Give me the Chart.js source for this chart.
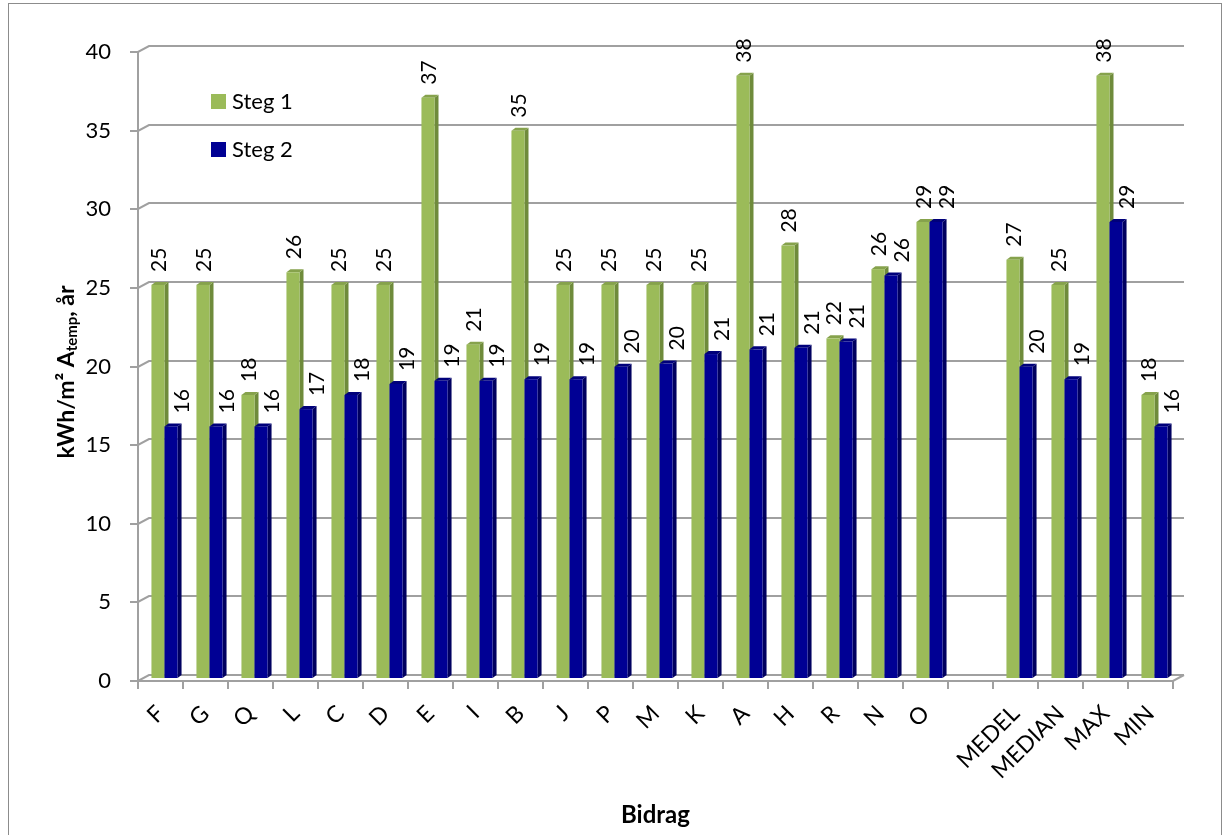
<!DOCTYPE html>
<html>
<head>
<meta charset="utf-8">
<script src="https://cdn.jsdelivr.net/npm/chart.js@4.4.1/dist/chart.umd.min.js"></script>
<style>
  html, body { margin: 0; padding: 0; background: #ffffff; }
  #wrap { position: relative; width: 1226px; height: 835px; }
  canvas { display: block; }
</style>
</head>
<body>
<div id="wrap"><canvas id="c" width="1226" height="835"></canvas></div>
<script>
// Energy contribution per building, two steps, plus summary columns
const categories = ['F', 'G', 'Q', 'L', 'C', 'D', 'E', 'I', 'B', 'J', 'P', 'M', 'K', 'A', 'H', 'R', 'N', 'O', '', 'MEDEL', 'MEDIAN', 'MAX', 'MIN'];
const steg1 = [25, 25, 18, 25.8, 25, 25, 36.9, 21.2, 34.8, 25, 25, 25, 25, 38.3, 27.5, 21.6, 26, 29, null, 26.6, 25, 38.3, 18];
const steg2 = [16, 16, 16, 17.1, 18, 18.7, 18.9, 18.9, 19, 19, 19.8, 20, 20.6, 20.9, 21, 21.4, 25.6, 29, null, 19.8, 19, 29, 16];
const seriesNames = ['Steg 1', 'Steg 2'];
const yMax = 40;
const yStep = 5;

const FONT = 'Lato, "Open Sans", sans-serif';
// front, side and top face colours per series
const FRONTS = ['#9bbb59', '#000094'];
const SIDES = ['#6f8b3b', '#000060'];
const TOPS = ['#86a24c', '#00007a'];
const GRID = '#a0a0a0';

// pseudo-3D: back wall offset and bar depth
const WALL_DX = 11, WALL_DY = -6;
const BAR_SHIFT_X = 4, BAR_SHIFT_Y = -3;
const DEPTH_X = 4, DEPTH_Y = -3;

const wallPlugin = {
  id: 'wall',
  beforeDatasetsDraw(chart) {
    const { ctx, chartArea: a, scales: { y } } = chart;
    ctx.save();
    ctx.strokeStyle = GRID;
    ctx.lineWidth = 2;
    // horizontal gridlines on the back wall with diagonal joins to the front axis
    for (let v = 0; v <= yMax; v += yStep) {
      const py = Math.round(y.getPixelForValue(v));
      ctx.beginPath();
      ctx.moveTo(a.left - 8, py);
      ctx.lineTo(a.left, py);
      ctx.lineTo(a.left + WALL_DX, py + WALL_DY);
      ctx.lineTo(a.right + WALL_DX, py + WALL_DY);
      ctx.stroke();
    }
    // front floor edge and right floor edge
    const pb = Math.round(y.getPixelForValue(0));
    ctx.beginPath();
    ctx.moveTo(a.left, pb);
    ctx.lineTo(a.right, pb);
    ctx.lineTo(a.right + WALL_DX, pb + WALL_DY);
    ctx.stroke();
    // left axis line
    ctx.beginPath();
    ctx.moveTo(a.left, Math.round(y.getPixelForValue(yMax)));
    ctx.lineTo(a.left, pb);
    ctx.stroke();
    // category boundary ticks
    const n = categories.length;
    const step = (a.right - a.left) / n;
    for (let i = 0; i <= n; i++) {
      const px = Math.round(a.left + i * step);
      ctx.beginPath();
      ctx.moveTo(px, pb);
      ctx.lineTo(px, pb + 8);
      ctx.stroke();
    }
    ctx.restore();
  },
  afterDatasetsDraw(chart) {
    const { ctx } = chart;
    ctx.save();
    ctx.translate(BAR_SHIFT_X, BAR_SHIFT_Y);
    for (let i = 0; i < categories.length; i++) {
      chart.data.datasets.forEach((ds, d) => {
        const v = ds.data[i];
        if (v === null || v === undefined) return;
        const el = chart.getDatasetMeta(d).data[i];
        const x1 = el.x - el.width / 2, x2 = el.x + el.width / 2;
        const top = el.y, base = el.base;
        // side face
        ctx.fillStyle = SIDES[d];
        ctx.beginPath();
        ctx.moveTo(x2, top);
        ctx.lineTo(x2 + DEPTH_X, top + DEPTH_Y);
        ctx.lineTo(x2 + DEPTH_X, base + DEPTH_Y);
        ctx.lineTo(x2, base);
        ctx.closePath();
        ctx.fill();
        // top face
        ctx.fillStyle = TOPS[d];
        ctx.beginPath();
        ctx.moveTo(x1, top);
        ctx.lineTo(x1 + DEPTH_X, top + DEPTH_Y);
        ctx.lineTo(x2 + DEPTH_X, top + DEPTH_Y);
        ctx.lineTo(x2, top);
        ctx.closePath();
        ctx.fill();
        // front face
        ctx.fillStyle = FRONTS[d];
        ctx.fillRect(x1, top, x2 - x1, base - top);
      });
    }
    ctx.restore();

    // value labels, rotated
    ctx.save();
    ctx.fillStyle = '#000';
    ctx.font = '21px ' + FONT;
    ctx.textAlign = 'left';
    ctx.textBaseline = 'middle';
    chart.data.datasets.forEach((ds, d) => {
      const meta = chart.getDatasetMeta(d);
      ds.data.forEach((v, i) => {
        if (v === null || v === undefined) return;
        const el = meta.data[i];
        const lx = el.x + BAR_SHIFT_X + (d === 1 ? 10 : 0);
        const ly = el.y + BAR_SHIFT_Y - 13;
        ctx.save();
        ctx.translate(lx, ly);
        ctx.rotate(-Math.PI / 2);
        ctx.fillText(String(Math.round(v)), 0, 1);
        ctx.restore();
      });
    });
    ctx.restore();
  },
  afterDraw(chart) {
    const { ctx, chartArea: a } = chart;
    // legend inside the plot
    ctx.save();
    ctx.font = '22px ' + FONT;
    ctx.textBaseline = 'middle';
    ctx.textAlign = 'left';
    chart.data.datasets.forEach((ds, d) => {
      const ly = a.top + 49 + d * 48;
      ctx.fillStyle = FRONTS[d];
      ctx.fillRect(a.left + 73, ly - 7, 15, 15);
      ctx.fillStyle = '#000';
      ctx.fillText(ds.label, a.left + 94, ly + 1);
    });
    ctx.restore();

    // y-axis title with subscript
    ctx.save();
    ctx.translate(67, 372);
    ctx.rotate(-Math.PI / 2);
    ctx.fillStyle = '#000';
    ctx.textBaseline = 'middle';
    ctx.textAlign = 'left';
    const big = 'bold 23px ' + FONT, small = 'bold 15px ' + FONT;
    const parts = [['kWh/m² A', big, 0], ['temp', small, 5], [', år', big, 0]];
    let w = 0;
    parts.forEach(p => { ctx.font = p[1]; w += ctx.measureText(p[0]).width; });
    let cx = -w / 2;
    parts.forEach(p => {
      ctx.font = p[1];
      ctx.fillText(p[0], cx, p[2]);
      cx += ctx.measureText(p[0]).width;
    });
    ctx.restore();

    // outer frame
    ctx.save();
    ctx.strokeStyle = '#8c8c8c';
    ctx.lineWidth = 1;
    ctx.strokeRect(8.5, 3.5, 1213, 840);
    ctx.restore();
  }
};

new Chart(document.getElementById('c'), {
  type: 'bar',
  data: {
    labels: categories,
    datasets: [
      // faces are painted by the wall plugin, so the library's own fill stays transparent
      { label: seriesNames[0], data: steg1, backgroundColor: 'rgba(0,0,0,0)', borderWidth: 0, categoryPercentage: 0.58, barPercentage: 1 },
      { label: seriesNames[1], data: steg2, backgroundColor: 'rgba(0,0,0,0)', borderWidth: 0, categoryPercentage: 0.58, barPercentage: 1 }
    ]
  },
  options: {
    responsive: false,
    animation: false,
    devicePixelRatio: 1,
    layout: { padding: { top: 52, right: 53, left: 0, bottom: 0 } },
    plugins: { legend: { display: false }, tooltip: { enabled: false } },
    scales: {
      x: {
        grid: { display: false, drawTicks: false },
        border: { display: false },
        ticks: { color: '#000', font: { family: FONT, size: 23 }, minRotation: 45, maxRotation: 45, autoSkip: false, padding: 19 },
        title: { display: true, text: 'Bidrag', color: '#000', font: { family: FONT, size: 24, weight: 'bold' }, padding: { top: 0, bottom: 5 } },
        afterFit: s => { s.height = 154; }
      },
      y: {
        min: 0, max: yMax,
        grid: { display: false, drawTicks: false },
        border: { display: false },
        ticks: { stepSize: yStep, color: '#000', font: { family: FONT, size: 22 }, padding: 27 },
        afterFit: s => { s.width = 138; }
      }
    }
  },
  plugins: [wallPlugin]
});
</script>
</body>
</html>
